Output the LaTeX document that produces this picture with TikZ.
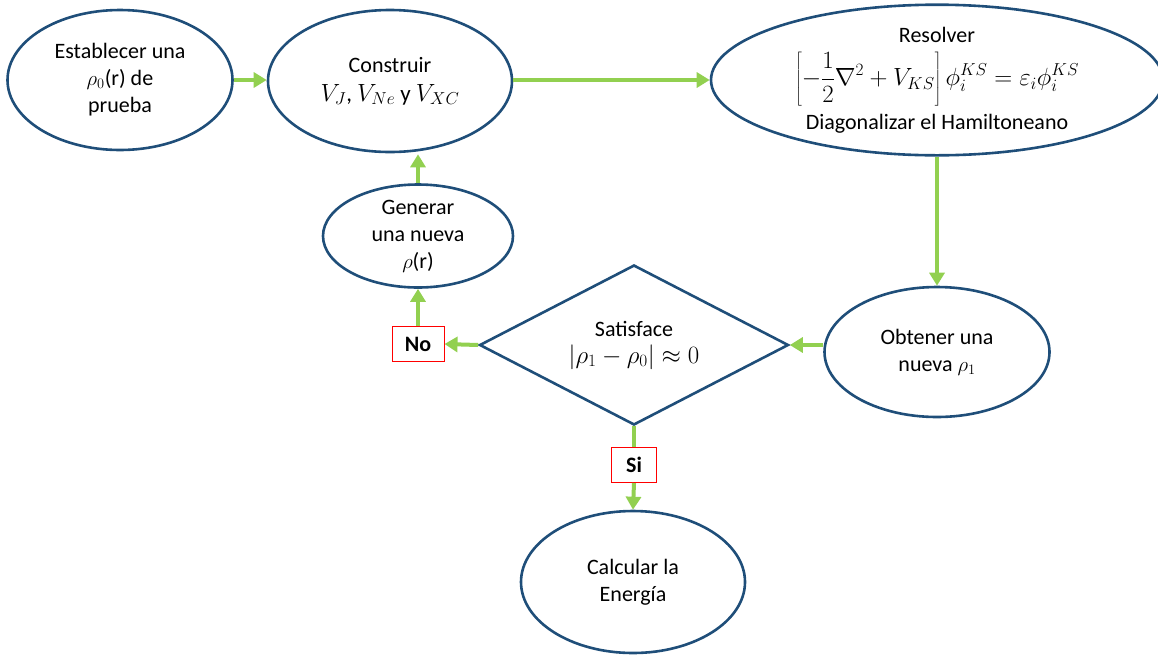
\documentclass[tikz,border=0pt]{standalone}
\usepackage{fontspec}
\setmainfont{Carlito}
\usetikzlibrary{shapes.geometric,arrows.meta}
\definecolor{edgeblue}{HTML}{1F4E79}
\definecolor{flowgreen}{HTML}{92D050}
\begin{document}
\begin{tikzpicture}[x=1pt,y=-1pt,
  oval/.style={ellipse,draw=edgeblue,line width=2.6pt,inner sep=0pt,align=center,
    font=\fontsize{22}{27}\selectfont},
  decision/.style={diamond,aspect=1.93,draw=edgeblue,line width=2.6pt,inner sep=0pt,align=center,
    font=\fontsize{22}{27}\selectfont},
  tag/.style={draw=red,line width=1pt,fill=white,inner sep=0pt,
    font=\fontsize{22}{24}\selectfont\bfseries},
  flow/.style={draw=flowgreen,line width=4pt,-{Triangle[length=13pt,width=15pt]}},
  plain/.style={draw=flowgreen,line width=4pt}]
\useasboundingbox (0,0) rectangle (1158,654);
\node[oval,minimum width=225pt,minimum height=140pt] (est) at (120,80)
  {Establecer una\\$\rho_0$(r) de\\prueba};
\node[oval,minimum width=244pt,minimum height=142pt] (cons) at (390,81)
  {Construir\\[2pt]{\fontsize{23}{27}\selectfont$V_J$, $V_{Ne}$ y $V_{XC}$}};
\node[oval,minimum width=452pt,minimum height=140pt] (res) at (937,80)
  {Resolver\\[9pt]{\fontsize{24}{27}\selectfont$\displaystyle\left[-\frac{1}{2}\nabla^2+V_{KS}\right]\phi_i^{KS}=\varepsilon_i\phi_i^{KS}$}\\[7pt]Diagonalizar el Hamiltoneano};
\node[oval,minimum width=190pt,minimum height=103pt] (gen) at (418,236)
  {Generar\\una nueva\\$\rho$(r)};
\node[decision,minimum width=309pt,minimum height=160pt] (dia) at (634,345)
  {Satisface\\{\fontsize{23}{27}\selectfont$|\rho_1-\rho_0|\approx 0$}};
\node[oval,minimum width=225pt,minimum height=130pt] (obt) at (937,352)
  {Obtener una\\nueva $\rho_1$};
\node[oval,minimum width=224pt,minimum height=142pt] (calc) at (633,582)
  {Calcular la\\Energía};
\node[tag,minimum width=52pt,minimum height=35pt] (no) at (418,344) {No};
\node[tag,minimum width=45pt,minimum height=35pt] (si) at (634,465) {Si};
\draw[flow] (est.east |- 0,80) -- (cons.west |- 0,80);
\draw[flow] (cons.east |- 0,80) -- (res.west);
\draw[flow] (res.south) -- (obt.north);
\draw[flow] (obt.west |- dia.east) -- (dia.east);
\draw[flow] (dia.west) -- (no.east);
\draw[flow] (no.north) -- (gen.south);
\draw[flow] (gen.north) -- ([yshift=-1pt]gen.north |- cons.south);
\draw[plain] (dia.south) -- (si.north);
\draw[flow] (si.south) -- (calc.north);
\end{tikzpicture}
\end{document}
